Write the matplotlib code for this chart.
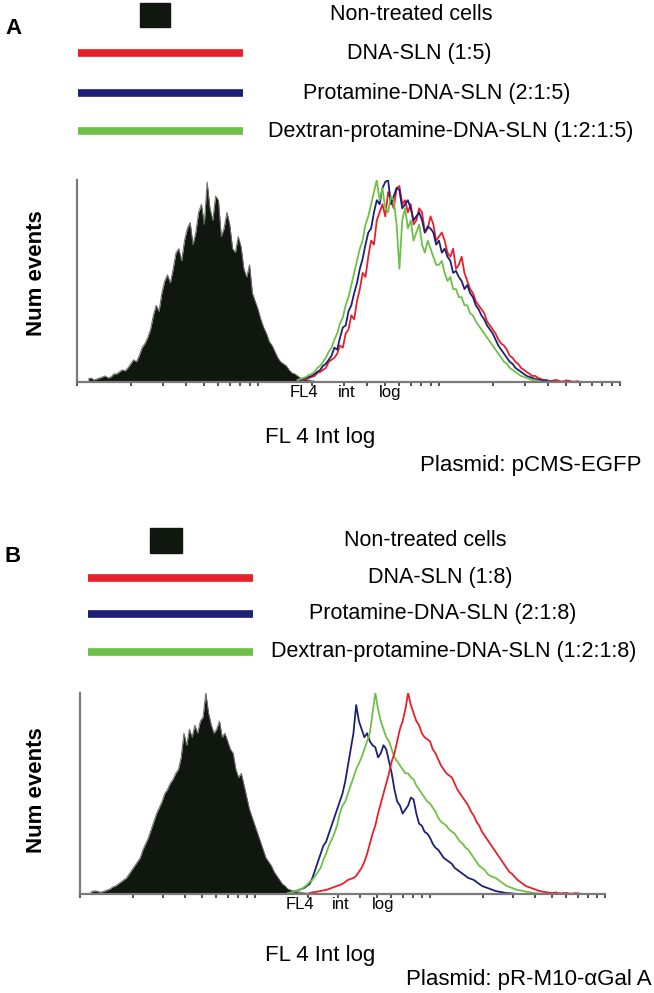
import numpy as np
import matplotlib
matplotlib.use("Agg")
import matplotlib.pyplot as plt
from matplotlib.patches import Rectangle
from matplotlib.ticker import FixedLocator, FixedFormatter, LogLocator, NullFormatter

plt.rcParams["font.family"] = ["Liberation Sans", "DejaVu Sans"]

# histogram bins: 4 channels wide, 256 channels per decade (3 decades shown)
STEP = 4
CH_PER_DECADE = 256

# --- panel A (pCMS-EGFP), counts as % of peak ---
a_ctrl_start = 16
a_ctrl = [1.5, 2, 1, 1.5, 2, 2.5, 3, 2, 2.5, 4, 4, 5, 6, 5.5, 7, 9, 11, 10, 13, 17,
          19, 22, 26, 33, 38, 35, 44, 50, 53, 49, 56, 64, 66, 60, 70, 76, 79, 68, 74, 84,
          88, 78, 99, 86, 80, 92, 90, 72, 76, 84, 78, 66, 64, 72, 67, 56, 52, 58, 44, 40,
          36, 31, 27, 24, 20, 18, 15, 12, 10, 9, 8, 6, 4.5, 4, 3, 2, 1.5, 1.2, 1, 0.5, 0.5]
a_red_start = 312
a_red = [0.5, 0.8, 1, 1.5, 2, 2.5, 3, 4.5, 5, 6, 7, 10, 11, 12, 14, 18, 17, 24, 26, 33,
         31, 40, 46, 54, 52, 62, 70, 68, 80, 84, 88, 82, 94, 90, 86, 96, 97, 88, 90, 84,
         88, 78, 80, 86, 84, 74, 76, 82, 78, 70, 72, 74, 70, 64, 62, 66, 56, 58, 62, 54,
         50, 46, 44, 40, 38, 36, 34, 30, 28, 26, 24, 21, 19, 18, 16, 13, 12, 10, 9, 7,
         6, 5, 4, 3, 3, 2, 1.5, 1, 1, 0.5, 0.5, 1, 0.8, 0.3, 0.3, 0.8, 0.6, 0.2, 0.2, 0.4, 0]
a_blue_start = 312
a_blue = [0.5, 1, 1.5, 2, 2.5, 3, 4, 5, 6, 8, 9, 11, 13, 17, 16, 22, 27, 28, 35, 38,
          44, 49, 56, 61, 68, 74, 76, 84, 90, 88, 96, 99, 100, 88, 92, 96, 95, 86, 88, 90,
          86, 80, 82, 84, 80, 74, 77, 76, 74, 68, 70, 64, 66, 62, 60, 54, 55, 52, 50, 46,
          48, 44, 42, 38, 36, 33, 31, 28, 26, 24, 21, 18, 16, 14, 12, 10, 9, 7, 6, 5,
          4, 3, 2.5, 2, 1.5, 1.2, 1, 0.7, 0.5, 0.3, 0.3, 0]
a_green_start = 312
a_green = [1, 1.5, 2, 2.5, 3.5, 4, 5, 7, 8, 10, 12, 15, 17, 21, 24, 29, 32, 38, 42, 48,
           54, 60, 66, 70, 78, 82, 88, 94, 100, 90, 96, 86, 84, 92, 90, 78, 56, 80, 86, 76,
           80, 70, 74, 78, 68, 64, 70, 66, 62, 58, 58, 60, 54, 50, 52, 46, 46, 42, 42, 38,
           38, 34, 33, 30, 28, 26, 24, 22, 20, 18, 16, 14, 12, 10, 9, 7, 6, 5, 4, 3,
           2.5, 2, 1.5, 1, 1, 0.5, 0.3, 0]

# --- panel B (pR-M10-aGal A) ---
b_ctrl_start = 16
b_ctrl = [1, 1.5, 1.5, 1, 1, 1.5, 2, 2.5, 3.5, 4, 5, 6, 7, 8, 10, 12, 14, 16, 18, 22,
          25, 28, 32, 36, 40, 43, 46, 50, 52, 55, 57, 60, 62, 68, 80, 74, 82, 78, 84, 80,
          86, 88, 100, 90, 84, 80, 82, 86, 78, 80, 76, 72, 70, 62, 58, 60, 54, 48, 42, 38,
          34, 30, 26, 22, 18, 16, 14, 11, 9, 7, 5, 4, 2.5, 2, 1.5, 1.2, 1, 0.8, 0.5, 0.4, 0.3]
b_blue_start = 304
b_blue = [0.5, 0.8, 1, 1.5, 2, 2.5, 3, 4, 5, 8, 12, 16, 20, 24, 26, 30, 34, 38, 42, 46,
          50, 56, 64, 72, 80, 94, 86, 82, 78, 80, 76, 74, 73, 68, 70, 74, 72, 66, 60, 52,
          46, 44, 40, 42, 44, 48, 47, 40, 35, 34, 31, 30, 28, 25, 23, 22, 20, 18, 17, 16,
          15, 13, 12, 11, 10, 9, 8, 7.5, 7, 6, 5, 4, 3.5, 3, 2.5, 2, 1.5, 1.2, 1, 0.7,
          0.5, 0.4, 0.3, 0.1, 0]
b_green_start = 304
b_green = [0.5, 0.7, 1, 1.5, 2, 2.5, 3.5, 4.5, 6, 7, 9, 11, 13, 17, 20, 24, 27, 30, 34, 40,
           44, 46, 50, 54, 58, 62, 65, 68, 72, 76, 80, 90, 100, 92, 86, 82, 78, 76, 72, 68,
           66, 64, 62, 60, 60, 58, 57, 54, 52, 50, 48, 46, 45, 43, 41, 38, 36, 35, 34, 32,
           31, 30, 28, 26, 25, 23, 22, 20, 18, 16, 14, 13, 12, 10, 9, 8.5, 8, 7, 6, 5,
           4, 3.5, 3, 2.5, 2, 1.8, 1.5, 1.2, 1, 0.7, 0.5, 0.3, 0.2]
b_red_start = 336
b_red = [0.5, 0.8, 1, 1.2, 1.5, 1.8, 2, 2.5, 3, 3.5, 4, 4.5, 5, 6, 7, 7.5, 8, 9, 11, 13,
         16, 20, 25, 30, 34, 40, 45, 50, 55, 60, 66, 70, 76, 82, 86, 92, 100, 94, 90, 86,
         84, 80, 78, 77, 76, 72, 70, 67, 64, 62, 60, 59, 58, 55, 52, 50, 48, 46, 44, 41,
         39, 36, 34, 31, 29, 27, 25, 23, 21, 19, 17, 15, 13, 11, 10, 8.5, 7, 6, 5, 4,
         3.5, 3, 2.5, 2, 1.5, 1.2, 1, 0.8, 0.6, 0.5, 0.8, 0.4, 0.3, 0.5, 0.5, 0.2, 0.2, 0.4,
         0.4, 0.1, 0]

tick_pos = [18, 31, 54]
tick_labels = ["FL4", "int", "log"]

RED, BLUE, GREEN, BLACK = "#e8202a", "#1e2076", "#6ec046", "#10170e"


def to_xy(start, values):
    ch = start + STEP * np.arange(len(values))
    return 10 ** (ch / CH_PER_DECADE), np.array(values, dtype=float)


def draw_hist(ax, ctrl, curves):
    x, y = ctrl
    ax.fill_between(x, y, color=BLACK, lw=0)
    ax.plot(x, y, color="#6a6a6a", lw=0.7)
    for (cx, cy), col in curves:
        ax.plot(cx, cy, color=col, lw=1.3)
    ax.set_xscale("log")
    ax.set_xlim(1, 1000)
    ax.set_ylim(0, 100)
    for s in ["top", "right"]:
        ax.spines[s].set_visible(False)
    for s in ["left", "bottom"]:
        ax.spines[s].set_color("#7a7a7a")
        ax.spines[s].set_linewidth(1.6)
    ax.set_yticks([])
    ax.xaxis.set_major_locator(FixedLocator(tick_pos))
    ax.xaxis.set_major_formatter(FixedFormatter(tick_labels))
    ax.xaxis.set_minor_locator(LogLocator(base=10, subs=np.arange(1, 10)))
    ax.xaxis.set_minor_formatter(NullFormatter())
    ax.tick_params(axis="x", which="major", length=0, labelsize=12, pad=2)
    ax.tick_params(axis="x", which="minor", length=3, width=1.2, color="#333333")
    ax.patch.set_alpha(0)


fig = plt.figure(figsize=(6.54, 9.93), dpi=100)
W, H = 654, 993


def px_axes(left, top, right, bottom):
    return fig.add_axes([left / W, 1 - bottom / H, (right - left) / W, (bottom - top) / H])


ax_a = px_axes(77, 180, 620, 382)
draw_hist(ax_a, to_xy(a_ctrl_start, a_ctrl),
          [(to_xy(a_red_start, a_red), RED),
           (to_xy(a_blue_start, a_blue), BLUE),
           (to_xy(a_green_start, a_green), GREEN)])

ax_b = px_axes(80, 693, 605, 894)
draw_hist(ax_b, to_xy(b_ctrl_start, b_ctrl),
          [(to_xy(b_blue_start, b_blue), BLUE),
           (to_xy(b_green_start, b_green), GREEN),
           (to_xy(b_red_start, b_red), RED)])

# overlay in pixel coordinates for legends and labels
ov = fig.add_axes([0, 0, 1, 1])
ov.set_xlim(0, W)
ov.set_ylim(H, 0)
ov.axis("off")
ov.patch.set_alpha(0)


def legend_block(letter, letter_y, sq, line_x, rows, fs=15.5):
    ov.text(5, letter_y, letter, fontsize=16, fontweight="bold", ha="left", va="center")
    ov.add_patch(Rectangle((sq[0], sq[1]), sq[2], sq[3], color=BLACK))
    for y, col, label, cx in rows:
        if col is not None:
            ov.plot(line_x, [y, y], color=col, lw=5.5, solid_capstyle="butt")
        ov.text(cx, y, label, fontsize=fs, ha="center", va="center")


legend_block("A", 28, (140, 3, 30, 24), [78, 243],
             [(15, None, "Non-treated cells", 411),
              (53, RED, "DNA-SLN (1:5)", 419),
              (93, BLUE, "Protamine-DNA-SLN (2:1:5)", 437),
              (131, GREEN, "Dextran-protamine-DNA-SLN (1:2:1:5)", 451)])

legend_block("B", 557, (150, 528, 32, 25), [88, 253],
             [(541, None, "Non-treated cells", 425),
              (578, RED, "DNA-SLN (1:8)", 440),
              (614, BLUE, "Protamine-DNA-SLN (2:1:8)", 443),
              (652, GREEN, "Dextran-protamine-DNA-SLN (1:2:1:8)", 454)])

for yc in [273, 790]:
    ov.text(37, yc, "Num events", fontsize=16, fontweight="bold", rotation=90,
            ha="center", va="center")

ov.text(320, 437, "FL 4 Int log", fontsize=16, ha="center", va="center")
ov.text(642, 465, "Plasmid: pCMS-EGFP", fontsize=16, ha="right", va="center")
ov.text(320, 955, "FL 4 Int log", fontsize=16, ha="center", va="center")
ov.text(652, 980, "Plasmid: pR-M10-αGal A", fontsize=16, ha="right", va="center")

fig.savefig("out.png", dpi=100)
